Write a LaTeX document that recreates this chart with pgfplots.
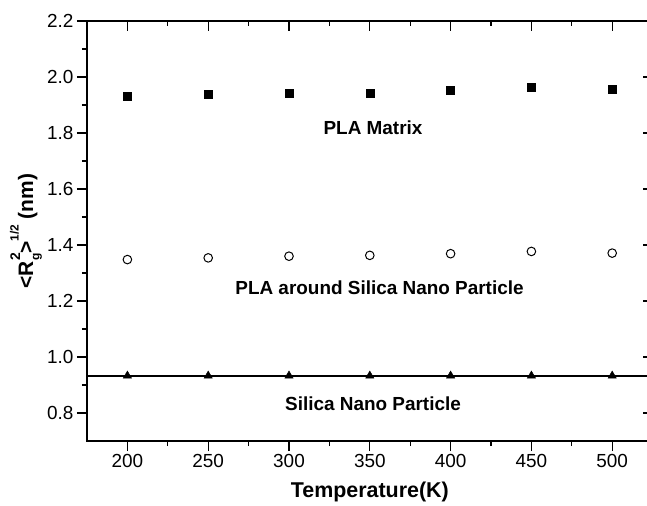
\documentclass[border=0pt]{standalone}
\usepackage{fontspec}
\setmainfont{Liberation Sans}
\usepackage{pgfplots}
\pgfplotsset{compat=1.18}
\begin{document}
\begin{tikzpicture}
\pgfplotsset{
  common/.style={
    at={(0,0)}, anchor=south west,
    scale only axis, width=565.6bp, height=420bp,
    xmin=175, xmax=525, ymin=0.7, ymax=2.2,
    xtick={200,250,300,350,400,450,500},
    ytick={0.8,1,1.2,1.4,1.6,1.8,2,2.2},
    minor x tick num=1, minor y tick num=1,
    major tick length=10bp, minor tick length=5bp,
    every tick/.append style={line width=1.3pt, black},
    axis line style={line width=1.4pt},
    /pgf/number format/assume math mode=true,
    ticklabel style={font=\fontsize{19}{22}\selectfont},
    yticklabel style={/pgf/number format/.cd, fixed, fixed zerofill, precision=1},
  }
}
\begin{axis}[common, tick align=outside, xtick pos=left, ytick pos=left,
  xlabel={Temperature(K)},
  xlabel style={font=\bfseries\fontsize{21.5}{24}\selectfont, at={(axis description cs:0.5,-0.121)}, anchor=center},
  ylabel={<R\rlap{\raisebox{0.62em}{\fontsize{14}{16}\selectfont 2}}\raisebox{-0.3em}{\fontsize{12}{14}\selectfont g}>\raisebox{0.7em}{\fontsize{12}{14}\selectfont 1/2} (nm)},
  ylabel style={font=\bfseries\fontsize{21}{24}\selectfont, at={(axis description cs:-0.108,0.5)}, anchor=center, rotate=0},
]
% PLA Matrix
\addplot[only marks, mark=square*, mark size=4bp, black] coordinates {
(200,1.930) (250,1.937) (300,1.943) (350,1.941) (400,1.954) (450,1.964) (500,1.956)};
% PLA around Silica Nano Particle
\addplot[only marks, mark=o, mark size=4.3bp, black, mark options={line width=1pt}] coordinates {
(200,1.348) (250,1.354) (300,1.360) (350,1.363) (400,1.369) (450,1.377) (500,1.371)};
% Silica Nano Particle
\addplot[black, line width=1.3pt, no marks] coordinates {(175,0.932) (525,0.932)};
\addplot[only marks, mark=triangle*, mark size=4.8bp, black] coordinates {
(200,0.933) (250,0.933) (300,0.933) (350,0.933) (400,0.933) (450,0.933) (500,0.933)};
\node[font=\bfseries\fontsize{19}{22}\selectfont] at (axis cs:352,1.818) {PLA Matrix};
\node[font=\bfseries\fontsize{19}{22}\selectfont] at (axis cs:356,1.249) {PLA around Silica Nano Particle};
\node[font=\bfseries\fontsize{19}{22}\selectfont] at (axis cs:352,0.833) {Silica Nano Particle};
\end{axis}
\begin{axis}[common, tick align=inside, xtick pos=right, ytick pos=right,
  xticklabels={}, yticklabels={}]
\end{axis}
\pgfresetboundingbox
\useasboundingbox (-87bp,-65bp) rectangle (560bp,441bp);
\end{tikzpicture}
\end{document}
